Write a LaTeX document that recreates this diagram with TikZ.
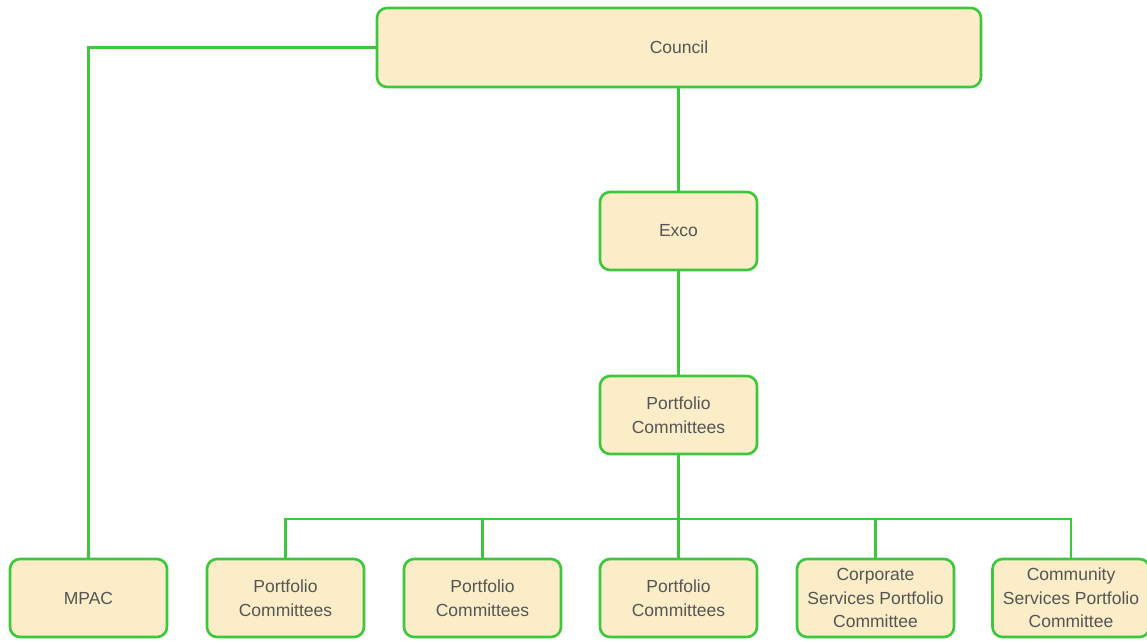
\documentclass[tikz,border=0pt]{standalone}
\usepackage{fontspec}
\setmainfont{Liberation Sans}
\definecolor{boxfill}{HTML}{FBEDC8}
\definecolor{boxline}{HTML}{3CC83C}
\definecolor{txt}{HTML}{555555}
\begin{document}
\begin{tikzpicture}[x=1pt,y=-1pt,
  orgbox/.style={draw=boxline,fill=boxfill,line width=2.6pt,rounded corners=10pt,
    minimum width=157pt,minimum height=78pt,align=center,text=txt,inner sep=0pt,
    font=\fontsize{17.5}{23.5}\selectfont},
  link/.style={draw=boxline,line width=2.6pt}]
\useasboundingbox (0,0) rectangle (1147,640);
\node[orgbox,minimum width=604pt,minimum height=79pt] (council) at (679,47.5) {\raisebox{-2pt}{Council}};
\node[orgbox] (exco) at (678.5,231) {\raisebox{-2pt}{Exco}};
\node[orgbox] (pcmid) at (678.5,415) {Portfolio\\Committees};
\node[orgbox] (mpac) at (88.5,598) {MPAC};
\node[orgbox] (pc1) at (285.5,598) {Portfolio\\Committees};
\node[orgbox] (pc2) at (482.5,598) {Portfolio\\Committees};
\node[orgbox] (pc3) at (678.5,598) {Portfolio\\Committees};
\node[orgbox] (corp) at (875.5,598) {Corporate\\Services Portfolio\\Committee};
\node[orgbox] (comm) at (1071,598) {Community\\Services Portfolio\\Committee};
\coordinate (bus) at (678.5,519);
\draw[link] (council.south -| exco.north) -- (exco.north);
\draw[link] (exco) -- (pcmid);
\draw[link] (pcmid.south) -- (pc3.north);
\draw[link] (council.west) -| (mpac.north);
\draw[link] (pc1.north) |- (bus) -| (comm.north);
\draw[link] (pc2.north) -- (pc2.north |- bus);
\draw[link] (corp.north) -- (corp.north |- bus);
\end{tikzpicture}
\end{document}
